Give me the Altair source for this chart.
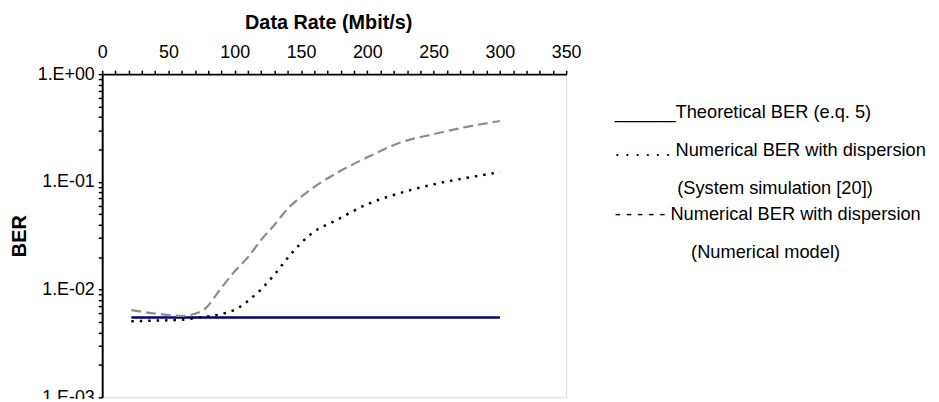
import altair as alt
import pandas as pd

# ---- data ----
x_rate = [22, 40, 60, 75, 90, 100, 110, 120, 130, 140, 150, 160, 175, 200, 225, 250, 275, 300]
ber_model = [0.00645, 0.0060, 0.0057, 0.0063, 0.0104, 0.0148, 0.0200, 0.029, 0.040, 0.0566,
             0.0724, 0.0896, 0.117, 0.169, 0.232, 0.277, 0.324, 0.367]
ber_sim = [0.00508, 0.00515, 0.00525, 0.00555, 0.00593, 0.0065, 0.00785, 0.0101, 0.0138, 0.0197,
           0.027, 0.0346, 0.043, 0.062, 0.0789, 0.0948, 0.109, 0.123]
theory_x = [22, 300]
theory_ber = [0.0055, 0.0055]

x_ticks = list(range(0, 351, 10))
x_labels = [0, 50, 100, 150, 200, 250, 300, 350]
y_decades = [1.0, 0.1, 0.01, 0.001]
y_labels = ["1.E+00", "1.E-01", "1.E-02", "1.E-03"]
y_ticks = []
for d in [0.001, 0.01, 0.1]:
    y_ticks += [round(d * k, 6) for k in range(1, 10)]
y_ticks.append(1.0)

legend_lines = [
    "______Theoretical BER (e.q. 5)",
    ". . . . . . Numerical BER with dispersion",
    "(System simulation [20])",
    "- - - - - Numerical BER with dispersion",
    "(Numerical model)",
]

df_model = pd.DataFrame({"rate": x_rate, "ber": ber_model})
df_sim = pd.DataFrame({"rate": x_rate, "ber": ber_sim})
df_theory = pd.DataFrame({"rate": theory_x, "ber": theory_ber})

W, H = 468, 326
FONT = "Liberation Sans"

y_label_expr = " : ".join(
    [f"datum.value == {v} ? '{s}'" for v, s in zip(y_decades, y_labels)]
) + " : ''"
x_label_expr = "indexof([" + ",".join(str(v) for v in x_labels) + "], datum.value) >= 0 ? datum.label : ''"

x_enc = alt.X(
    "rate:Q",
    scale=alt.Scale(domain=[0, 350], nice=False),
    axis=alt.Axis(
        orient="top", values=x_ticks, labelExpr=x_label_expr,
        title="Data Rate (Mbit/s)", titleFontSize=20, titleFontWeight="bold",
        titleX=W / 2 - 6, titleY=-52, titleBaseline="middle",
        labelFontSize=18, labelPadding=9, tickSize=4, tickWidth=1.5,
        tickColor="black", domainColor="black", domainWidth=2,
        grid=False, labelFlush=False, labelOverlap=False, labelColor="black",
    ),
)
y_enc = alt.Y(
    "ber:Q",
    scale=alt.Scale(type="log", domain=[0.001, 1], nice=False),
    axis=alt.Axis(
        orient="left", values=y_ticks, labelExpr=y_label_expr,
        title="BER", titleFontSize=20, titleFontWeight="bold",
        titleX=-83, titleY=H / 2, titleAngle=270, titleBaseline="middle", titleAlign="center",
        labelFontSize=18, labelPadding=4, tickSize=4, tickWidth=1.5,
        tickColor="black", domainColor="black", domainWidth=2,
        grid=False, labelFlush=False, labelOverlap=False, labelColor="black",
    ),
)

theory = alt.Chart(df_theory).mark_line(color="#00007f", strokeWidth=2.5).encode(x=x_enc, y=y_enc)
model = alt.Chart(df_model).mark_line(
    color="#8c8c8c", strokeWidth=2.2, strokeDash=[10, 5], interpolate="monotone"
).encode(x=x_enc, y=y_enc)
sim = alt.Chart(df_sim).mark_line(
    color="black", strokeWidth=2.5, strokeDash=[2.5, 6], interpolate="monotone"
).encode(x=x_enc, y=y_enc)

# legend drawn as plain text, as in the reference
leg_x = [517, 517, 580, 517, 594]
leg_y = [38, 77, 115, 141, 179]
legend_layers = []
for t, lx, ly in zip(legend_lines, leg_x, leg_y):
    legend_layers.append(
        alt.Chart(pd.DataFrame({"t": [t]})).mark_text(
            align="left", baseline="middle", fontSize=18.4, font=FONT, color="black"
        ).encode(x=alt.value(lx), y=alt.value(ly), text="t:N")
    )

chart = alt.layer(theory, sim, model, *legend_layers).properties(
    width=W, height=H,
    autosize=alt.AutoSizeParams(type="none"),
    padding={"left": 95, "top": 65, "right": 368, "bottom": 0},
).configure_view(
    stroke="#222", strokeWidth=1
).configure(
    font=FONT
).configure_axis(
    labelFont=FONT, titleFont=FONT
)

chart.save("out.html", embed_options={"renderer": "svg", "actions": False})
